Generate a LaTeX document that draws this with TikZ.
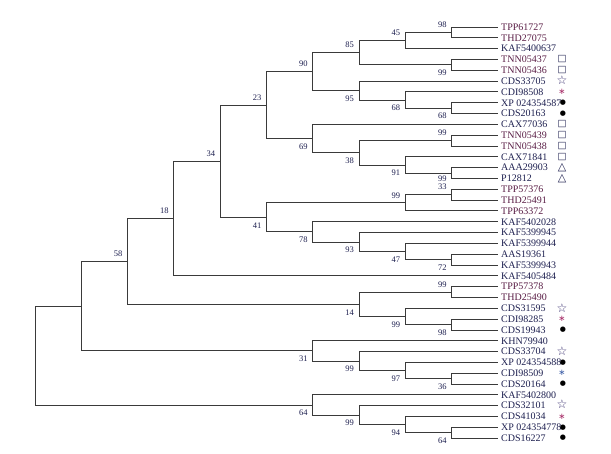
\documentclass[tikz,border=0pt]{standalone}
\usepackage{fontspec}
\setmainfont{Liberation Serif}
\newfontfamily\symf{DejaVu Sans}
\usetikzlibrary{calc}
\definecolor{brc}{HTML}{3A3A3A}
\definecolor{navy}{HTML}{1E2050}
\definecolor{maroon}{HTML}{5A1E46}
\definecolor{astr}{HTML}{A8306A}
\definecolor{astb}{HTML}{4060A8}
\definecolor{starc}{HTML}{3A3070}
\newcommand{\bsup}[2]{\node[bs] (lab#1) at ($(#1)+(-5,-7.5)$) {#2};}
\newcommand{\bsdn}[2]{\node[bs] (lab#1) at ($(#1)+(-5,8)$) {#2};}
\begin{document}
\begin{tikzpicture}[x=1pt,y=-1pt,
  brl/.style={draw=brc, line width=0.9pt},
  leaf/.style={anchor=west, inner xsep=3pt, inner ysep=0pt, font=\fontsize{10}{10}\selectfont, text=navy},
  leafr/.style={leaf, text=maroon},
  bs/.style={anchor=east, inner sep=0pt, font=\fontsize{8.5}{9}\selectfont, text=navy},
  symb/.style={inner sep=0pt, anchor=center},
  sq/.style={symb, font=\symf\fontsize{9.5}{9.5}\selectfont, text=navy},
  tri/.style={symb, font=\symf\fontsize{11}{11}\selectfont, text=navy},
  st/.style={symb, font=\symf\fontsize{12}{12}\selectfont, text=starc},
  dt/.style={symb, font=\symf\fontsize{7}{7}\selectfont, text=black},
  asr/.style={symb, font=\symf\fontsize{8.5}{8.5}\selectfont, text=astr},
  asb/.style={symb, font=\symf\fontsize{8.5}{8.5}\selectfont, text=astb}]
\fill[white] (0,0) rectangle (611,453);
\useasboundingbox (0,0) rectangle (611,453);

% leaves
\node[leafr] (t1) at (498,27.00) {TPP61727};
\node[leafr] (t2) at (498,37.82) {THD27075};
\node[leaf] (t3) at (498,48.64) {KAF5400637};
\node[leafr] (t4) at (498,59.46) {TNN05437};
\node[leafr] (t5) at (498,70.28) {TNN05436};
\node[leaf] (t6) at (498,81.10) {CDS33705};
\node[leaf] (t7) at (498,91.92) {CDI98508};
\node[leaf] (t8) at (498,102.74) {XP 024354587};
\node[leaf] (t9) at (498,113.56) {CDS20163};
\node[leaf] (t10) at (498,124.38) {CAX77036};
\node[leafr] (t11) at (498,135.20) {TNN05439};
\node[leafr] (t12) at (498,146.02) {TNN05438};
\node[leaf] (t13) at (498,156.84) {CAX71841};
\node[leaf] (t14) at (498,167.66) {AAA29903};
\node[leaf] (t15) at (498,178.48) {P12812};
\node[leafr] (t16) at (498,189.30) {TPP57376};
\node[leafr] (t17) at (498,200.12) {THD25491};
\node[leafr] (t18) at (498,210.94) {TPP63372};
\node[leaf] (t19) at (498,221.76) {KAF5402028};
\node[leaf] (t20) at (498,232.58) {KAF5399945};
\node[leaf] (t21) at (498,243.40) {KAF5399944};
\node[leaf] (t22) at (498,254.22) {AAS19361};
\node[leaf] (t23) at (498,265.04) {KAF5399943};
\node[leaf] (t24) at (498,275.86) {KAF5405484};
\node[leafr] (t25) at (498,286.68) {TPP57378};
\node[leafr] (t26) at (498,297.50) {THD25490};
\node[leaf] (t27) at (498,308.32) {CDS31595};
\node[leaf] (t28) at (498,319.14) {CDI98285};
\node[leaf] (t29) at (498,329.96) {CDS19943};
\node[leaf] (t30) at (498,340.78) {KHN79940};
\node[leaf] (t31) at (498,351.60) {CDS33704};
\node[leaf] (t32) at (498,362.42) {XP 024354588};
\node[leaf] (t33) at (498,373.24) {CDI98509};
\node[leaf] (t34) at (498,384.06) {CDS20164};
\node[leaf] (t35) at (498,394.88) {KAF5402800};
\node[leaf] (t36) at (498,405.70) {CDS32101};
\node[leaf] (t37) at (498,416.52) {CDS41034};
\node[leaf] (t38) at (498,427.34) {XP 024354778};
\node[leaf] (t39) at (498,438.16) {CDS16227};

% symbols
\node[sq] (s4) at (562,59.46) {□};
\node[sq] (s5) at (562,70.28) {□};
\node[st] (s6) at (562,80.6) {☆};
\node[asr] (s7) at (562,91.92) {∗};
\node[dt] (s8) at (563,102.74) {●};
\node[dt] (s9) at (563,113.56) {●};
\node[sq] (s10) at (562,124.38) {□};
\node[sq] (s11) at (562,135.20) {□};
\node[sq] (s12) at (562,146.02) {□};
\node[sq] (s13) at (562,156.84) {□};
\node[tri] (s14) at (562,167.66) {△};
\node[tri] (s15) at (562,178.48) {△};
\node[st] (s27) at (562,307.8) {☆};
\node[asr] (s28) at (562,319.14) {∗};
\node[dt] (s29) at (563,329.96) {●};
\node[st] (s31) at (562,351.1) {☆};
\node[dt] (s32) at (563,362.42) {●};
\node[asb] (s33) at (562,373.24) {∗};
\node[dt] (s34) at (563,384.06) {●};
\node[st] (s36) at (562,404.0) {☆};
\node[asr] (s37) at (562,416.52) {∗};
\node[dt] (s38) at (563,427.34) {●};
\node[dt] (s39) at (563,438.16) {●};

% internal nodes
\coordinate (n98) at (451.7,32.41);
\coordinate (n45) at (405.4,40.53);
\coordinate (n99a) at (451.7,64.87);
\coordinate (n85) at (359.1,52.70);
\coordinate (n68b) at (451.7,108.15);
\coordinate (n68a) at (405.4,100.04);
\coordinate (n95) at (359.1,90.57);
\coordinate (n90) at (312.8,71.64);
\coordinate (n99b) at (451.7,140.61);
\coordinate (n99c) at (451.7,173.07);
\coordinate (n91) at (405.4,164.96);
\coordinate (n38) at (359.1,152.79);
\coordinate (n69) at (312.8,138.59);
\coordinate (n23) at (266.5,105.11);
\coordinate (n33) at (451.7,194.71);
\coordinate (n99d) at (405.4,202.83);
\coordinate (n72) at (451.7,259.63);
\coordinate (n47) at (405.4,251.52);
\coordinate (n93) at (359.1,242.05);
\coordinate (n78) at (312.8,231.91);
\coordinate (n41) at (266.5,217.37);
\coordinate (n34) at (220.2,161.24);
\coordinate (n18) at (173.9,218.55);
\coordinate (n99e) at (451.7,292.09);
\coordinate (n98b) at (451.7,324.55);
\coordinate (n99f) at (405.4,316.44);
\coordinate (n14) at (359.1,304.27);
\coordinate (n58) at (127.6,261.41);
\coordinate (n36) at (451.7,378.65);
\coordinate (n97) at (405.4,370.54);
\coordinate (n99g) at (359.1,361.07);
\coordinate (n31) at (312.8,350.93);
\coordinate (nA) at (81.3,306.17);
\coordinate (n64b) at (451.7,432.75);
\coordinate (n94) at (405.4,424.64);
\coordinate (n99h) at (359.1,415.17);
\coordinate (n64) at (312.8,405.03);
\coordinate (root) at (35,355.6);

% branches
\draw[brl] (n98) |- (t1.west) (n98) |- (t2.west);
\draw[brl] (n45) |- (n98) (n45) |- (t3.west);
\draw[brl] (n99a) |- (t4.west) (n99a) |- (t5.west);
\draw[brl] (n85) |- (n45) (n85) |- (n99a);
\draw[brl] (n68b) |- (t8.west) (n68b) |- (t9.west);
\draw[brl] (n68a) |- (t7.west) (n68a) |- (n68b);
\draw[brl] (n95) |- (t6.west) (n95) |- (n68a);
\draw[brl] (n90) |- (n85) (n90) |- (n95);
\draw[brl] (n99b) |- (t11.west) (n99b) |- (t12.west);
\draw[brl] (n99c) |- (t14.west) (n99c) |- (t15.west);
\draw[brl] (n91) |- (t13.west) (n91) |- (n99c);
\draw[brl] (n38) |- (n99b) (n38) |- (n91);
\draw[brl] (n69) |- (t10.west) (n69) |- (n38);
\draw[brl] (n23) |- (n90) (n23) |- (n69);
\draw[brl] (n33) |- (t16.west) (n33) |- (t17.west);
\draw[brl] (n99d) |- (n33) (n99d) |- (t18.west);
\draw[brl] (n72) |- (t22.west) (n72) |- (t23.west);
\draw[brl] (n47) |- (t21.west) (n47) |- (n72);
\draw[brl] (n93) |- (t20.west) (n93) |- (n47);
\draw[brl] (n78) |- (t19.west) (n78) |- (n93);
\draw[brl] (n41) |- (n99d) (n41) |- (n78);
\draw[brl] (n34) |- (n23) (n34) |- (n41);
\draw[brl] (n18) |- (n34) (n18) |- (t24.west);
\draw[brl] (n99e) |- (t25.west) (n99e) |- (t26.west);
\draw[brl] (n98b) |- (t28.west) (n98b) |- (t29.west);
\draw[brl] (n99f) |- (t27.west) (n99f) |- (n98b);
\draw[brl] (n14) |- (n99e) (n14) |- (n99f);
\draw[brl] (n58) |- (n18) (n58) |- (n14);
\draw[brl] (n36) |- (t33.west) (n36) |- (t34.west);
\draw[brl] (n97) |- (t32.west) (n97) |- (n36);
\draw[brl] (n99g) |- (t31.west) (n99g) |- (n97);
\draw[brl] (n31) |- (t30.west) (n31) |- (n99g);
\draw[brl] (nA) |- (n58) (nA) |- (n31);
\draw[brl] (n64b) |- (t38.west) (n64b) |- (t39.west);
\draw[brl] (n94) |- (t37.west) (n94) |- (n64b);
\draw[brl] (n99h) |- (t36.west) (n99h) |- (n94);
\draw[brl] (n64) |- (t35.west) (n64) |- (n99h);
\draw[brl] (root) |- (nA) (root) |- (n64);

% bootstrap values
\bsup{n98}{98}
\bsup{n45}{45}
\bsdn{n99a}{99}
\bsup{n85}{85}
\bsdn{n68b}{68}
\bsdn{n68a}{68}
\bsdn{n95}{95}
\bsup{n90}{90}
\bsup{n99b}{99}
\node[bs] (labn99c) at ($(n99c)+(-5,5.2)$) {99};
\bsdn{n91}{91}
\bsdn{n38}{38}
\bsdn{n69}{69}
\bsup{n23}{23}
\node[bs] (labn33) at ($(n33)+(-5,-7.8)$) {33};
\bsup{n99d}{99}
\bsdn{n72}{72}
\bsdn{n47}{47}
\bsdn{n93}{93}
\bsdn{n78}{78}
\bsdn{n41}{41}
\bsup{n34}{34}
\bsup{n18}{18}
\bsup{n99e}{99}
\bsdn{n98b}{98}
\bsdn{n99f}{99}
\bsdn{n14}{14}
\bsup{n58}{58}
\bsdn{n36}{36}
\bsdn{n97}{97}
\bsdn{n99g}{99}
\bsdn{n31}{31}
\bsdn{n64b}{64}
\bsdn{n94}{94}
\bsdn{n99h}{99}
\bsdn{n64}{64}
\end{tikzpicture}
\end{document}
